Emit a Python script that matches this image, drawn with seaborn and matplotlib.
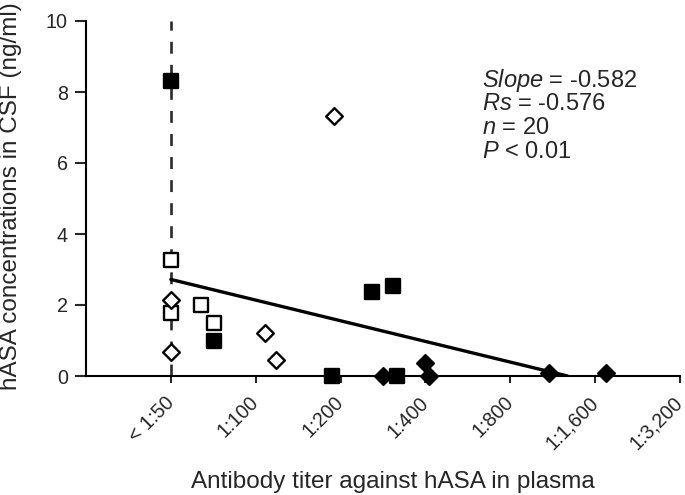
import numpy as np
import pandas as pd
import matplotlib.pyplot as plt
import seaborn as sns

sns.set_style('ticks')
plt.rcParams['font.family'] = ['Liberation Sans', 'DejaVu Sans']
plt.rcParams['mathtext.fontset'] = 'custom'
plt.rcParams['mathtext.it'] = 'Liberation Sans:italic'
plt.rcParams['mathtext.rm'] = 'Liberation Sans'
plt.rcParams['lines.scale_dashes'] = False

# reciprocal antibody titer vs hASA in CSF (ng/ml), one list pair per marker group
sq_filled_titer = [50, 71, 187, 258, 307, 318]
sq_filled_conc = [8.3, 1.0, 0.0, 2.36, 2.54, 0.0]
sq_open_titer = [50, 50, 64, 71]
sq_open_conc = [3.27, 1.78, 1.99, 1.50]
dm_open_titer = [50, 50, 108, 118, 189]
dm_open_conc = [2.14, 0.68, 1.22, 0.45, 7.32]
dm_filled_titer = [283, 397, 411, 1100, 1750]
dm_filled_conc = [0.0, 0.37, 0.0, 0.08, 0.08]

tick_titers = [50, 100, 200, 400, 800, 1600, 3200]
tick_labels = ['< 1:50', '1:100', '1:200', '1:400', '1:800', '1:1,600', '1:3,200']

# regression in log2 titer steps from 1:50
slope = -0.582
intercept = 2.72
stats_lines = [r'$\mathit{Slope}$ = -0.582',
               r'$\mathit{Rs}$ = -0.576',
               r'$\mathit{n}$ = 20',
               r'$\mathit{P}$ < 0.01']

W, H = 685, 495
fig = plt.figure(figsize=(W / 100, H / 100), dpi=100)
ax = fig.add_axes([86 / W, 1 - 376 / H, (680 - 86) / W, (376 - 21) / H])

# dashed line at detection limit
ax.axvline(50, ymin=0, ymax=1, color='#2b2b2b', lw=1.9,
           linestyle=(0, (8.6, 8.0)), zorder=1)

# regression line
x_end = 50 * 2 ** (-intercept / slope)
line_x = np.array([50, x_end])
line_df = pd.DataFrame({'x': line_x,
                        'y': intercept + slope * np.log2(line_x / 50)})
sns.lineplot(data=line_df, x='x', y='y', color='black', lw=2.4, ax=ax, zorder=2)

groups = [
    (sq_filled_titer, sq_filled_conc, 's', 'black', 100),
    (sq_open_titer, sq_open_conc, 's', 'white', 95),
    (dm_open_titer, dm_open_conc, 'D', 'white', 72),
    (dm_filled_titer, dm_filled_conc, 'D', 'black', 72),
]
for tx, cy, mk, fc, sz in groups:
    d = pd.DataFrame({'titer': tx, 'conc': cy})
    sns.scatterplot(data=d, x='titer', y='conc', marker=mk, color=fc,
                    edgecolor='black', linewidth=1.7, s=sz, ax=ax,
                    clip_on=False, zorder=3)

ax.set_xscale('log', base=2)
ax.set_xlim(25, 3200)
ax.set_ylim(0, 10)
ax.set_xticks(tick_titers)
ax.set_xticklabels(tick_labels, rotation=45, ha='right', va='center',
                   rotation_mode='anchor')
ax.minorticks_off()
ax.set_yticks([0, 2, 4, 6, 8, 10])
ax.tick_params(axis='x', length=5, width=1.5, pad=12, labelsize=14.2)
ax.tick_params(axis='y', length=8, width=1.5, pad=5, labelsize=14.2)
ax.set_xlabel('')
ax.set_ylabel('')
for s in ['top', 'right']:
    ax.spines[s].set_visible(False)
for s in ['left', 'bottom']:
    ax.spines[s].set_linewidth(1.5)
    ax.spines[s].set_color('black')

fig.text(393 / W, 1 - 488 / H, 'Antibody titer against hASA in plasma',
         ha='center', va='baseline', fontsize=17.5)
fig.text(11 / W, 1 - 196 / H, 'hASA concentrations in CSF (ng/ml)',
         ha='center', va='center', rotation=90, fontsize=17.5)

for i, t in enumerate(stats_lines):
    fig.text(482 / W, 1 - (86.5 + 24 * i) / H, t, ha='left', va='baseline',
             fontsize=17)

fig.savefig('out.png', dpi=100)
